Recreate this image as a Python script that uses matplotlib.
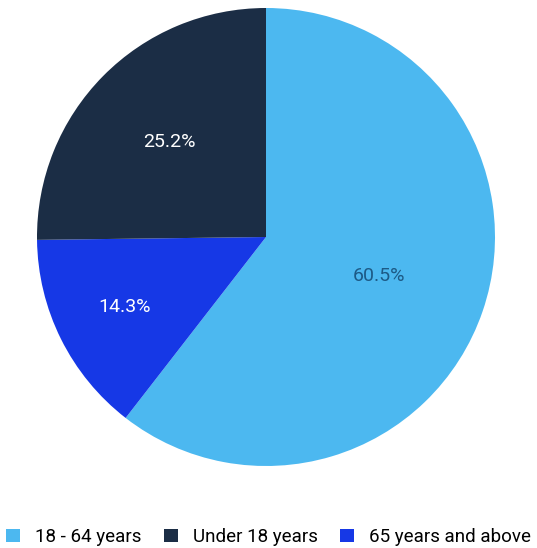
import matplotlib
matplotlib.use('Agg')
import numpy as np
import matplotlib.pyplot as plt
from matplotlib.patches import Patch

plt.rcParams['font.family'] = ['Roboto', 'DejaVu Sans']

# pie order (clockwise from top)
slice_labels = ['18 - 64 years', '65 years and above', 'Under 18 years']
slice_values = [60.5, 14.3, 25.2]
slice_colors = ['#4cb8f0', '#1638e6', '#1b2d45']
text_colors = ['#1d5a86', '#ffffff', '#ffffff']
label_dist = [0.52, 0.69, 0.59]

# legend order
legend_labels = ['18 - 64 years', 'Under 18 years', '65 years and above']

fig = plt.figure(figsize=(5.37, 5.48), dpi=100)
ax = fig.add_axes([37 / 537, (548 - 466) / 548, 458 / 537, 458 / 548])

wedges, _ = ax.pie(slice_values, colors=slice_colors, startangle=90,
                   counterclock=False, radius=1.0)
ax.set_xlim(-1, 1)
ax.set_ylim(-1, 1)
ax.set_aspect('auto')

for w, v, c, d in zip(wedges, slice_values, text_colors, label_dist):
    mid = np.deg2rad((w.theta1 + w.theta2) / 2)
    ax.text(d * np.cos(mid), d * np.sin(mid), '%.1f%%' % v, color=c,
            fontsize=14, ha='center', va='center')

color_map = dict(zip(slice_labels, slice_colors))
handles = [Patch(facecolor=color_map[l], label=l) for l in legend_labels]
fig.legend(handles=handles, loc='center', bbox_to_anchor=(0.5, 1 - 537 / 548),
           ncol=3, frameon=False, fontsize=13.5, handlelength=0.75,
           handleheight=0.75, handletextpad=0.8, columnspacing=1.2)

fig.savefig('out.png', dpi=100)
